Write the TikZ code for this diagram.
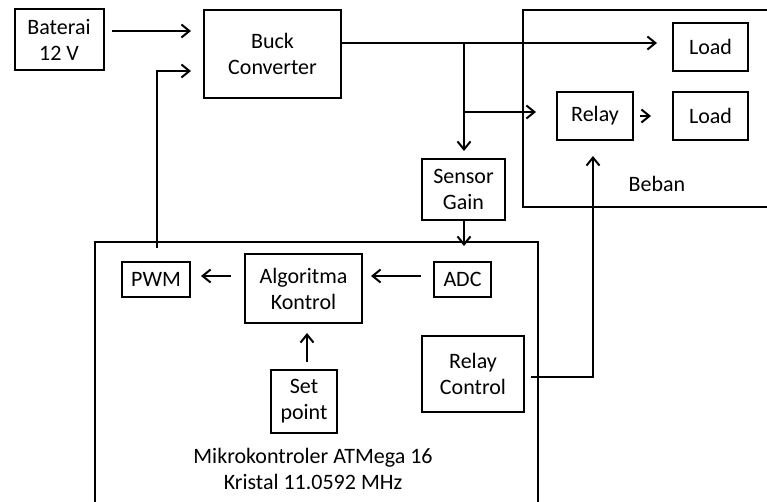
\documentclass[tikz,border=0pt]{standalone}
\usepackage{fontspec}
\setmainfont{Carlito}
\usetikzlibrary{arrows.meta,calc}
\begin{document}
\begin{tikzpicture}[x=1pt,y=-1pt,
  txt/.style={font=\fontsize{22}{26}\selectfont,text=black},
  box/.style={txt,draw,line width=2pt,align=center,inner sep=0pt},
  frame/.style={draw,line width=2pt},
  ln/.style={line width=2pt},
  arr/.style={line width=2pt,-{Straight Barb[length=8pt,width=13pt,line width=2pt]}},
  lbl/.style={txt,align=center}]
\useasboundingbox (0,0) rectangle (767,502);
\clip (0,0) rectangle (767,502);
\fill[white] (0,0) rectangle (767,502);

% enclosing frames
\draw[frame] (523,10) rectangle (800,207);
\draw[frame] (95,242) rectangle (538,560);

% nodes
\node[box,minimum width=89pt,minimum height=61pt] (bat) at (59,40) {Baterai\\12 V};
\node[box,minimum width=137pt,minimum height=88pt] (buck) at (272.5,54) {Buck\\Converter};
\node[box,minimum width=75pt,minimum height=48pt] (load1) at (710.5,47) {Load};
\node[box,minimum width=76pt,minimum height=48pt] (relay) at (595,116) {Relay};
\node[box,minimum width=75pt,minimum height=48pt] (load2) at (710.5,116) {Load};
\node[lbl] (beban) at (657,184) {Beban};
\node[box,minimum width=83pt,minimum height=61pt] (sensor) at (463.5,189.5) {Sensor\\Gain};
\node[box,minimum width=68pt,minimum height=35pt] (pwm) at (156,279.5) {PWM};
\node[box,minimum width=117pt,minimum height=69pt] (algo) at (303.5,288.5) {Algoritma\\Kontrol};
\node[box,minimum width=57pt,minimum height=35pt] (adc) at (462.5,279.5) {ADC};
\node[box,minimum width=66pt,minimum height=63pt] (setp) at (304,401.5) {Set\\point};
\node[box,minimum width=102pt,minimum height=76pt] (rc) at (473,374) {Relay\\Control};
\node[lbl] (mikro) at (313,469) {Mikrokontroler ATMega 16\\Kristal 11.0592 MHz};

% junctions
\coordinate (j1) at (464,43);
\coordinate (j2) at (464,112);
\coordinate (pwmtop) at (157,248);
\coordinate (pwmturn) at (157,71);
\coordinate (rcturn) at (593,377);
\coordinate (spx) at (307,0);

% connectors
\draw[arr] ([xshift=7pt]bat.east |- 0,31) -- ([xshift=-12pt]buck.west |- 0,31);
\draw[arr] (pwmtop) -- (pwmturn) -- ([xshift=-12pt]buck.west |- pwmturn);
\draw[arr] (buck.east |- j1) -- ([xshift=-15pt]load1.west |- j1);
\draw[arr] (j1) -- ([yshift=7pt]sensor.north -| j1);
\draw[arr] (j2) -- ([xshift=-20pt]relay.west |- j2);
\draw[arr] ([xshift=6pt]relay.east) -- ([xshift=-21pt]load2.west);
\draw[arr] (sensor.south -| j1) -- ([yshift=15pt]adc.north -| j1);
\draw[arr] ([xshift=-13pt]algo.west |- 0,276) -- ([xshift=10pt]pwm.east |- 0,276);
\draw[arr] ([xshift=-12pt]adc.west |- 0,276) -- ([xshift=8pt]algo.east |- 0,276);
\draw[arr] ([yshift=7pt]setp.north -| spx) -- ([yshift=-9pt]algo.south -| spx);
\draw[arr] ([xshift=6pt]rc.east |- rcturn) -- (rcturn) -- ([yshift=-15pt]relay.south -| rcturn);
\end{tikzpicture}
\end{document}
